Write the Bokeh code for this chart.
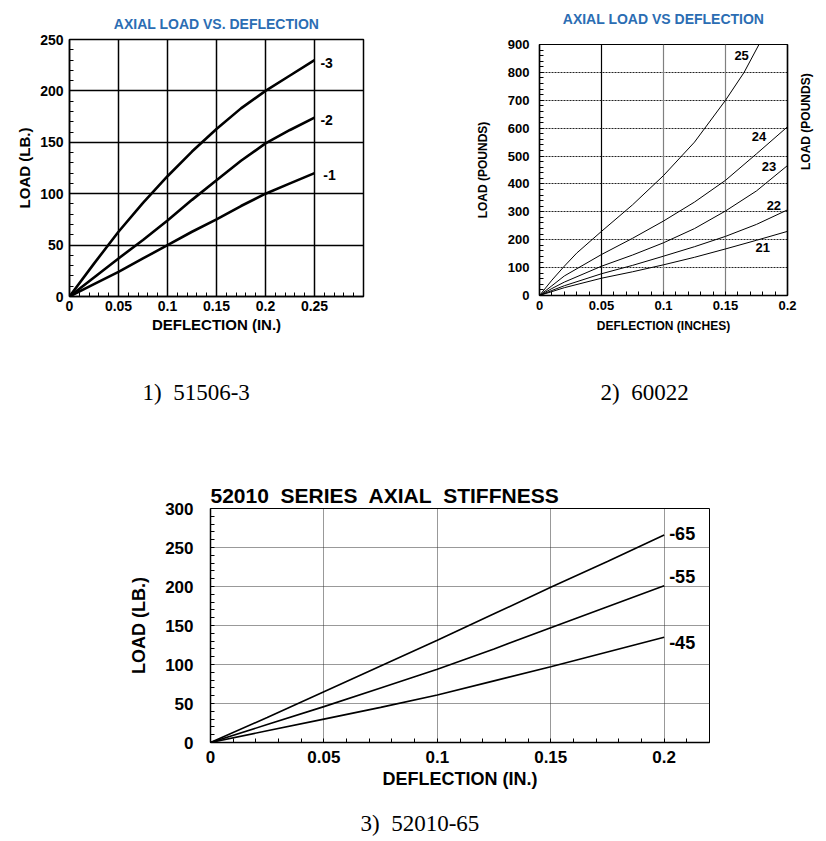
import math
from bokeh.plotting import figure
from bokeh.models import (FixedTicker, SingleIntervalTicker, CustomJSTickFormatter,
                          LinearAxis, Title, Range1d, Grid)
from bokeh.layouts import column, row
from bokeh.core.properties import value
from bokeh.embed import file_html
from bokeh.resources import INLINE

FONT = "Liberation Sans"
SERIF = "Liberation Serif"
BLUE = "#2B6DB3"
NB = "\u00a0"

# ---------------- Chart 1 data: 51506 axial load vs deflection ----------------
c1_x = [0, 0.025, 0.05, 0.075, 0.1, 0.125, 0.15, 0.175, 0.2, 0.225, 0.25]
c1_m3 = [0, 32, 63, 91, 117, 141, 163, 183, 200, 215, 230]
c1_m2 = [0, 18.5, 37, 55, 74, 94, 113, 132, 149, 162, 174]
c1_m1 = [0, 12, 24, 37, 50, 63, 75, 88, 100, 110, 120]
c1_names = ["-3", "-2", "-1"]
c1_label_x = [0.256, 0.256, 0.259]
c1_label_y = [227, 172, 118]

# ---------------- Chart 2 data: 60022 axial load vs deflection ----------------
c2_x25 = [0, 0.01, 0.02, 0.03, 0.05, 0.075, 0.1, 0.125, 0.15, 0.165, 0.177]
c2_s25 = [0, 55, 105, 152, 230, 325, 430, 550, 700, 800, 900]
c2_x = [0, 0.01, 0.02, 0.05, 0.075, 0.1, 0.125, 0.15, 0.175, 0.2]
c2_s24 = [0, 35, 70, 147, 205, 267, 335, 413, 508, 605]
c2_s23 = [0, 25, 48, 105, 145, 189, 240, 303, 375, 466]
c2_s22 = [0, 18, 35, 78, 108, 141, 175, 212, 255, 307]
c2_s21 = [0, 14, 28, 62, 85, 110, 137, 167, 198, 230]
c2_names = ["25", "24", "23", "22", "21"]
c2_label_x = [0.163, 0.177, 0.185, 0.189, 0.180]
c2_label_y = [861, 570, 464, 323, 173]

# ---------------- Chart 3 data: 52010 series axial stiffness ----------------
c3_x = [0, 0.025, 0.05, 0.075, 0.1, 0.125, 0.15, 0.175, 0.2]
c3_m65 = [0, 32, 65, 98, 131, 165, 199, 232, 266]
c3_m55 = [0, 23, 46, 70, 94, 120, 147, 174, 201]
c3_m45 = [0, 15, 30, 45, 61, 79, 97, 116, 135]
c3_names = ["-65", "-55", "-45"]
c3_label_x = [0.2022, 0.2022, 0.2022]
c3_label_y = [268, 213, 128]

titles = ["AXIAL LOAD VS. DEFLECTION", "AXIAL LOAD VS DEFLECTION",
          (NB + " ").join(["52010", "SERIES", "AXIAL", "STIFFNESS"])]
captions = ["1)" + NB + NB + "51506-3", "2)" + NB + NB + "60022", "3)" + NB + NB + "52010-65"]

fmt_js = "return String(Number(tick.toFixed(3)));"


def style_axes(p, fs, label_fs):
    for ax in p.xaxis + p.yaxis:
        ax.major_label_text_font = FONT
        ax.major_label_text_font_style = "bold"
        ax.major_label_text_font_size = fs
        ax.major_label_text_color = "black"
        ax.axis_label_text_font = FONT
        ax.axis_label_text_font_style = "bold"
        ax.axis_label_text_font_size = label_fs
        ax.axis_label_text_color = "black"
        ax.axis_line_color = "black"
        ax.axis_line_width = 1.5
        ax.major_tick_out = 0
        ax.major_tick_in = 0
        ax.minor_tick_out = 0
        ax.minor_tick_in = 4
        ax.minor_tick_line_color = "black"
        ax.formatter = CustomJSTickFormatter(code=fmt_js)
    p.background_fill_color = "white"
    p.border_fill_color = "white"


def caption(p, text, standoff, offset):
    t = Title(text=text, align="left", text_font=SERIF, text_font_size="23px",
              text_font_style="normal", text_color="black", standoff=standoff, offset=offset)
    p.add_layout(t, "below")


# ---------------- Chart 1 ----------------
p1 = figure(frame_width=294, frame_height=257, x_range=Range1d(0, 0.3), y_range=Range1d(0, 250),
            output_backend="svg", toolbar_location=None,
            min_border_left=69, min_border_right=50, min_border_top=39, min_border_bottom=165)
p1.title.text = titles[0]
p1.title.align = "center"
p1.title.text_color = BLUE
p1.title.text_font = FONT
p1.title.text_font_size = "14px"
p1.title.text_font_style = "bold"
p1.title.standoff = 16
style_axes(p1, "14px", "15px")
xt1 = FixedTicker(ticks=[0, 0.05, 0.1, 0.15, 0.2, 0.25], minor_ticks=[i / 100 for i in range(31)])
p1.xaxis.ticker = xt1
p1.xgrid.ticker = xt1
yt1 = SingleIntervalTicker(interval=50, num_minor_ticks=5)
p1.yaxis.ticker = yt1
p1.ygrid.ticker = yt1
p1.xaxis.axis_label = "DEFLECTION (IN.)"
p1.yaxis.axis_label = "LOAD (LB.)"
p1.xaxis.major_label_standoff = 4
p1.xaxis.axis_label_standoff = 2
p1.yaxis.major_label_standoff = 6
p1.yaxis.axis_label_standoff = 4
for g in (p1.xgrid, p1.ygrid):
    g.grid_line_color = "black"
    g.grid_line_width = 1.5
    g.grid_line_alpha = 1
p1.outline_line_color = "black"
p1.outline_line_width = 1.5
for ys in (c1_m3, c1_m2, c1_m1):
    p1.line(c1_x, ys, line_color="black", line_width=2.6)
p1.text(x=c1_label_x, y=c1_label_y, text=c1_names, text_font=value(FONT), text_font_style="bold",
        text_font_size="14px", text_align="left", text_baseline="middle", text_color="black")
caption(p1, captions[0], 85, 73)

# ---------------- Chart 2 title strip (its frame aligns with chart 2's frame) ----------------
t2 = figure(width=413, height=30, x_range=Range1d(0, 248), y_range=Range1d(0, 30),
            output_backend="svg", toolbar_location=None, min_border=0)
t2.axis.visible = False
t2.grid.visible = False
t2.outline_line_color = None
t2.background_fill_color = "white"
t2.border_fill_color = "white"
t2.text(x=[124], y=[12], text=[titles[1]], text_align="center", text_baseline="middle",
        text_color=BLUE, text_font=value(FONT), text_font_size="14px", text_font_style="bold")

# ---------------- Chart 2 ----------------
p2 = figure(frame_width=248, frame_height=251, x_range=Range1d(0, 0.2), y_range=Range1d(0, 900),
            output_backend="svg", toolbar_location=None,
            min_border_left=126, min_border_right=39, min_border_top=14, min_border_bottom=166)
rax = LinearAxis(axis_label="LOAD (POUNDS)", ticker=FixedTicker(ticks=[]))
p2.add_layout(rax, "right")
style_axes(p2, "13px", "12px")
rax.minor_tick_in = 0
rax.axis_label_standoff = 18
rax.axis_label_orientation = math.pi / 2
xt2 = FixedTicker(ticks=[0, 0.05, 0.1, 0.15, 0.2], minor_ticks=[i / 100 for i in range(21)])
p2.xaxis.ticker = xt2
yt2 = SingleIntervalTicker(interval=100, num_minor_ticks=5)
p2.yaxis[0].ticker = yt2
p2.ygrid.ticker = yt2
p2.xaxis.axis_label = "DEFLECTION (INCHES)"
p2.yaxis[0].axis_label = "LOAD (POUNDS)"
p2.xaxis.major_label_standoff = 5
p2.xaxis.axis_label_standoff = 6
p2.yaxis[0].major_label_standoff = 10
p2.yaxis[0].axis_label_standoff = 15
p2.xgrid.ticker = FixedTicker(ticks=[0.05])
p2.xgrid.grid_line_color = "black"
p2.xgrid.grid_line_width = 1.2
p2.add_layout(Grid(dimension=0, ticker=FixedTicker(ticks=[0.1, 0.15]),
                   grid_line_color="#808080", grid_line_width=1.2))
p2.ygrid.grid_line_color = "#222222"
p2.ygrid.grid_line_width = 1.2
p2.ygrid.grid_line_dash = "2 1"
p2.outline_line_color = "black"
p2.outline_line_width = 1.2
p2.line(c2_x25, c2_s25, line_color="black", line_width=1)
for ys in (c2_s24, c2_s23, c2_s22, c2_s21):
    p2.line(c2_x, ys, line_color="black", line_width=1)
p2.text(x=c2_label_x, y=c2_label_y, text=c2_names, text_font=value(FONT), text_font_style="bold",
        text_font_size="13px", text_align="center", text_baseline="middle", text_color="black")
caption(p2, captions[1], 84, 61)

# ---------------- Chart 3 ----------------
p3 = figure(frame_width=499, frame_height=234, x_range=Range1d(0, 0.22), y_range=Range1d(0, 300),
            output_backend="svg", toolbar_location=None,
            min_border_left=210, min_border_right=117, min_border_top=47, min_border_bottom=99)
p3.title.text = titles[2]
p3.title.align = "left"
p3.title.text_color = "black"
p3.title.text_font = FONT
p3.title.text_font_size = "21px"
p3.title.text_font_style = "bold"
p3.title.standoff = 4
style_axes(p3, "17px", "18px")
xt3 = FixedTicker(ticks=[0, 0.05, 0.1, 0.15, 0.2], minor_ticks=[i / 100 for i in range(23)])
p3.xaxis.ticker = xt3
p3.xgrid.ticker = xt3
yt3 = SingleIntervalTicker(interval=50, num_minor_ticks=5)
p3.yaxis.ticker = yt3
p3.ygrid.ticker = yt3
p3.xaxis.axis_label = "DEFLECTION (IN.)"
p3.yaxis.axis_label = "LOAD (LB.)"
p3.xaxis.major_label_standoff = 8
p3.xaxis.axis_label_standoff = 3
p3.yaxis.major_label_standoff = 17
p3.yaxis.axis_label_standoff = 13
for g in (p3.xgrid, p3.ygrid):
    g.grid_line_color = "#333333"
    g.grid_line_width = 1
    g.grid_line_dash = "1 1"
    g.grid_line_alpha = 1
p3.outline_line_color = "black"
p3.outline_line_width = 1
for ys in (c3_m65, c3_m55, c3_m45):
    p3.line(c3_x, ys, line_color="black", line_width=1.6)
p3.text(x=c3_label_x, y=c3_label_y, text=c3_names, text_font=value(FONT), text_font_style="bold",
        text_font_size="18px", text_align="left", text_baseline="middle", text_color="black")
caption(p3, captions[2], 34, 150)

layout = column(row(p1, column(t2, p2)), p3)
open("out.html", "w").write(file_html(layout, INLINE))
